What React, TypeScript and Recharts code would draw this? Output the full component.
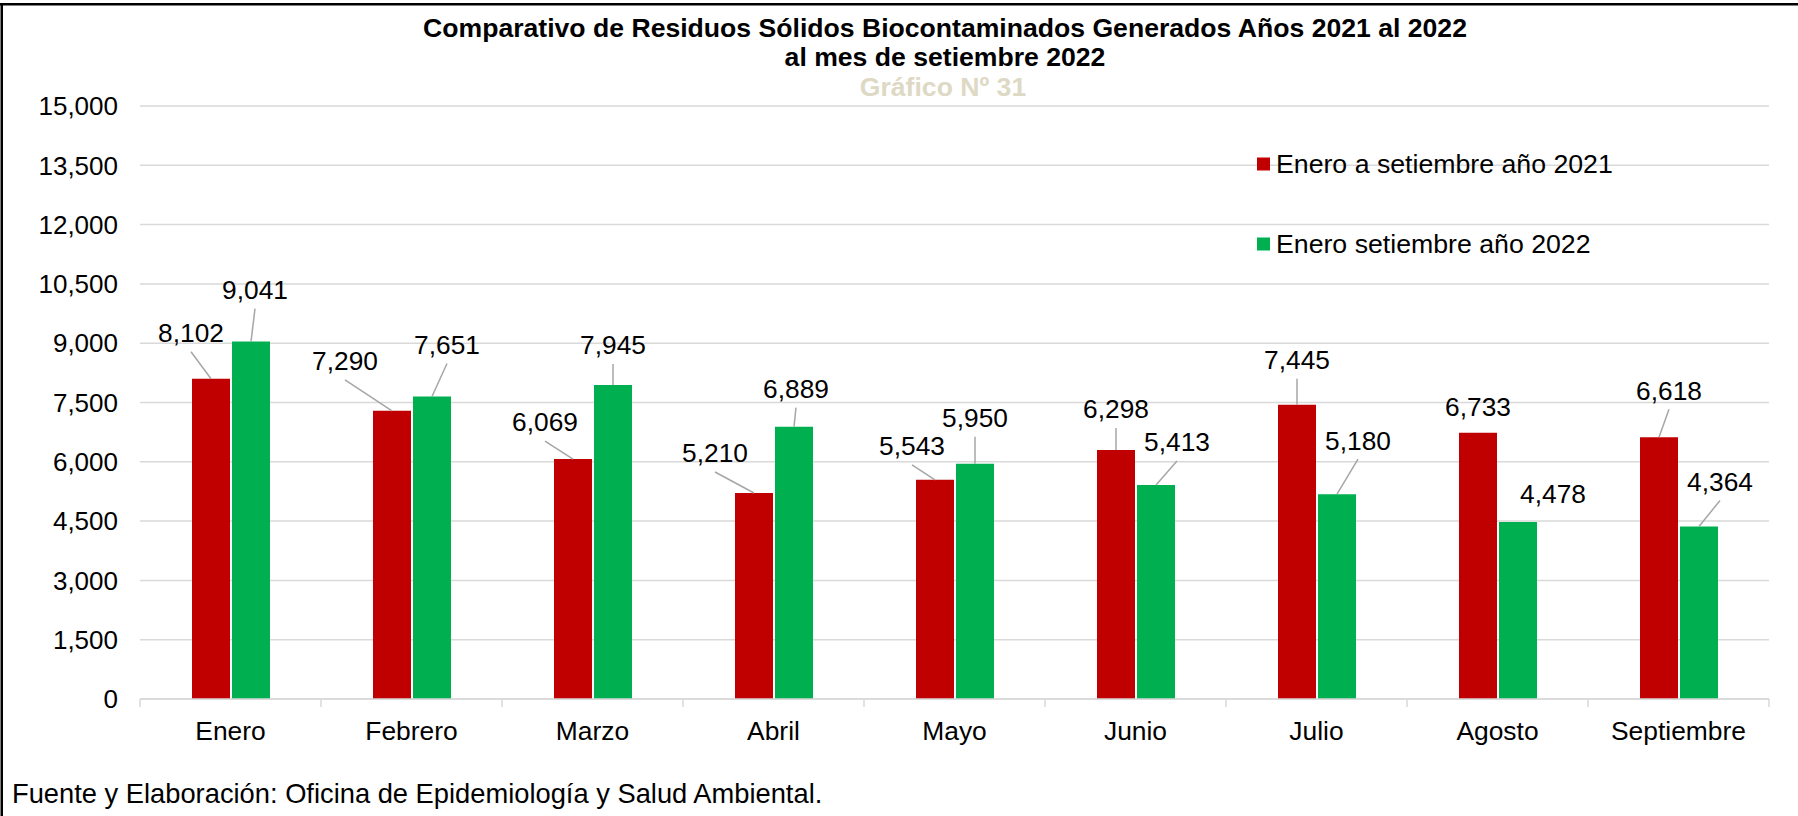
import React from 'react';
import { BarChart, Bar, XAxis, YAxis, CartesianGrid, LabelList } from 'recharts';

const months = ['Enero', 'Febrero', 'Marzo', 'Abril', 'Mayo', 'Junio', 'Julio', 'Agosto', 'Septiembre'];
const values2021 = [8102, 7290, 6069, 5210, 5543, 6298, 7445, 6733, 6618];
const values2022 = [9041, 7651, 7945, 6889, 5950, 5413, 5180, 4478, 4364];
const yTicks = [0, 1500, 3000, 4500, 6000, 7500, 9000, 10500, 12000, 13500, 15000];
const seriesNames = ['Enero a setiembre año 2021', 'Enero setiembre año 2022'];
const titleLines = [
  'Comparativo de Residuos Sólidos Biocontaminados Generados Años 2021 al 2022',
  'al mes de setiembre 2022',
];
const subtitle = 'Gráfico Nº 31';
const footer = 'Fuente y Elaboración: Oficina de Epidemiología y Salud Ambiental.';

// label placement (text centre relative to the top-centre of its bar), px
const labelOffsets2021 = [[-20, -46], [-47, -50], [-28, -37], [-39, -40], [-23, -34], [0, -41], [0, -45], [0, -26], [10, -47]];
const labelOffsets2022 = [[4, -52], [15, -52], [0, -40], [2, -38], [0, -46], [21, -43], [21, -54], [35, -28], [21, -45]];

const COLORS = ['#C00000', '#00B050'];
const W = 1798;
const H = 816;
const MARGIN = { top: 106, right: 29, bottom: 77, left: 0 };
const Y_AXIS_W = 140;
const X_AXIS_H = 40;
const PLOT_W = W - MARGIN.right - MARGIN.left - Y_AXIS_W;
const FONT = '"Liberation Sans", Arial, sans-serif';
const GRID = '#D9D9D9';

const data = months.map((m, i) => ({ month: m, v2021: values2021[i], v2022: values2022[i] }));

const fmt = (v: number) => Number(v).toLocaleString('en-US');

const makeLabel = (offsets: number[][]) => (props: any) => {
  const vb = props.viewBox || {};
  const x = props.x ?? vb.x;
  const y = props.y ?? vb.y;
  const width = props.width ?? vb.width;
  const index = props.index;
  const value = props.value;
  if (x == null || y == null || index == null) return null;
  const [dx, dy] = offsets[index] || [0, -26];
  const cx = x + width / 2;
  const tx = cx + dx;
  const ty = y + dy;
  return (
    <g>
      {dy <= -30 && (
        <line x1={tx} y1={ty + 19} x2={cx} y2={y} stroke="#A6A6A6" strokeWidth={1.5} />
      )}
      <text x={tx} y={ty + 9.4} textAnchor="middle" fontSize={26.3} fill="#000" fontFamily={FONT}>
        {fmt(value)}
      </text>
    </g>
  );
};

const CategoryTick = (props: any) => {
  const { x, y, payload, index } = props;
  const bw = PLOT_W / months.length;
  return (
    <g>
      <line x1={x - bw / 2} x2={x - bw / 2} y1={y} y2={y + 8} stroke={GRID} strokeWidth={1.5} />
      {index === months.length - 1 && (
        <line x1={x + bw / 2} x2={x + bw / 2} y1={y} y2={y + 8} stroke={GRID} strokeWidth={1.5} />
      )}
      <text x={x} y={y + 41} textAnchor="middle" fontSize={26.4} fill="#000" fontFamily={FONT}>
        {payload.value}
      </text>
    </g>
  );
};

export default function App() {
  return (
    <div
      style={{
        position: 'absolute',
        left: 0,
        top: 0,
        width: W,
        height: H,
        background: '#fff',
        fontFamily: FONT,
        overflow: 'hidden',
      }}
    >
      <BarChart width={W} height={H} data={data} margin={MARGIN} barCategoryGap={52} barGap={2}>
        <CartesianGrid horizontal vertical={false} stroke={GRID} strokeWidth={1.5} />
        <XAxis
          dataKey="month"
          height={X_AXIS_H}
          tickSize={0}
          tickMargin={0}
          tickLine={false}
          axisLine={{ stroke: GRID, strokeWidth: 1.5 }}
          tick={<CategoryTick />}
          interval={0}
        />
        <YAxis
          domain={[0, 15000]}
          ticks={yTicks}
          width={Y_AXIS_W}
          tickSize={6}
          tickMargin={16}
          tickLine={false}
          axisLine={false}
          interval={0}
          tick={{ fontSize: 26, fill: '#000', fontFamily: FONT }}
          tickFormatter={fmt}
        />
        <Bar dataKey="v2021" name={seriesNames[0]} fill={COLORS[0]} isAnimationActive={false}>
          <LabelList dataKey="v2021" content={makeLabel(labelOffsets2021)} />
        </Bar>
        <Bar dataKey="v2022" name={seriesNames[1]} fill={COLORS[1]} isAnimationActive={false}>
          <LabelList dataKey="v2022" content={makeLabel(labelOffsets2022)} />
        </Bar>
      </BarChart>
      <svg
        width={W}
        height={H}
        style={{ position: 'absolute', left: 0, top: 0, pointerEvents: 'none' }}
      >
        <rect x={0} y={3} width={W} height={2.5} fill="#000" />
        <rect x={0.5} y={3} width={2.5} height={H} fill="#000" />
        <text x={945} y={36.5} textAnchor="middle" fontSize={26.6} fontWeight="bold" fill="#000" fontFamily={FONT}>
          {titleLines[0]}
        </text>
        <text x={945} y={65.5} textAnchor="middle" fontSize={26.6} fontWeight="bold" fill="#000" fontFamily={FONT}>
          {titleLines[1]}
        </text>
        <text x={943} y={96} textAnchor="middle" fontSize={26.6} fontWeight="bold" fill="#DDD9C4" fontFamily={FONT}>
          {subtitle}
        </text>
        {seriesNames.map((n, i) => (
          <g key={n}>
            <rect x={1257} y={157.5 + i * 80} width={13} height={13} fill={COLORS[i]} />
            <text x={1276} y={172.5 + i * 80} fontSize={26.7} fill="#000" fontFamily={FONT}>
              {n}
            </text>
          </g>
        ))}
        <text x={12} y={803} fontSize={27.3} fill="#000" fontFamily={FONT}>
          {footer}
        </text>
      </svg>
    </div>
  );
}
